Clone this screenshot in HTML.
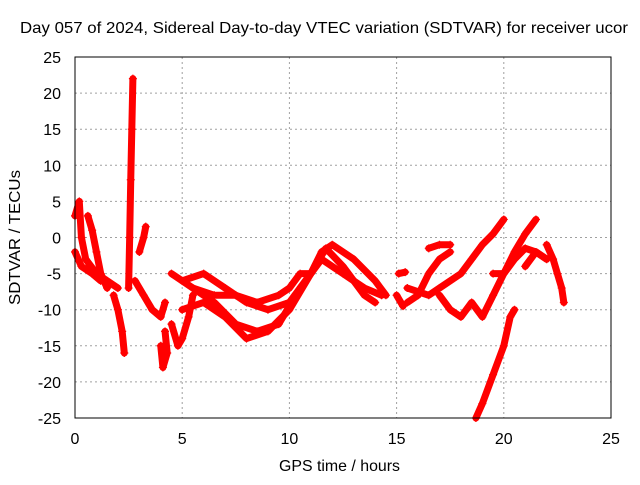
<!DOCTYPE html>
<html><head><meta charset="utf-8"><style>
body{margin:0;background:#fff}
svg text{font-family:"Liberation Sans",sans-serif;font-size:16px;fill:#000}
</style></head><body>
<svg id="chart" width="640" height="480" xmlns="http://www.w3.org/2000/svg">
<rect width="640" height="480" fill="#fff"/>
<text x="20" y="33" textLength="608" lengthAdjust="spacingAndGlyphs">Day 057 of 2024, Sidereal Day-to-day VTEC variation (SDTVAR) for receiver ucor</text>
<text x="279" y="471" textLength="121" lengthAdjust="spacingAndGlyphs">GPS time / hours</text>
<text transform="translate(20,305) rotate(-90)" textLength="135" lengthAdjust="spacingAndGlyphs">SDTVAR / TECUs</text>
<g id="grid"></g><g id="ticks"></g><g id="series"></g>
<rect x="75" y="57" width="536" height="361" fill="none" stroke="#000" stroke-width="1"/>
</svg>
<script>
const xTicks=[0,5,10,15,20,25];
const yTicks=[25,20,15,10,5,0,-5,-10,-15,-20,-25];
const trace1=[[0,3],[0.2,5],[0.3,0],[0.5,-3],[1,-5],[1.5,-6],[2,-7]];
const trace2=[[0,-2],[0.3,-4],[0.8,-5],[1.2,-6]];
const trace3=[[0.6,3],[0.8,1],[1,-2],[1.2,-5],[1.5,-7]];
const trace4=[[1.8,-8],[2,-10],[2.2,-13],[2.3,-16]];
const trace5=[[2.5,-7],[2.55,0],[2.6,8],[2.65,15],[2.7,22]];
const trace6=[[3,-2],[3.2,0],[3.3,1.5]];
const trace7=[[2.8,-6],[3.2,-8],[3.6,-10],[4,-11],[4.2,-9]];
const trace8=[[4,-15],[4.1,-18],[4.3,-16],[4.2,-13]];
const trace9=[[4.5,-12],[4.8,-15],[5,-14],[5.3,-11],[5.5,-8]];
const trace10=[[5,-6],[6,-5],[7,-7],[8,-9],[9,-10],[10,-9],[11,-5],[11.5,-2],[12,-1],[13,-3],[14,-6],[14.5,-8]];
const trace11=[[5,-10],[6,-9],[7,-11],[8,-14],[9,-13],[10,-10],[11,-5],[11.7,-1.5],[12.5,-4],[13.5,-8],[14,-9]];
const trace12=[[5.5,-7],[6.5,-9],[7.5,-12],[8.5,-13],[9.5,-12],[10.5,-7],[11.5,-3],[12.5,-5],[13.5,-7],[14.3,-8]];
const trace13=[[4.5,-5],[5.5,-7],[6.5,-8],[7.5,-8],[8.5,-9],[9.5,-8],[10,-7],[10.5,-5],[11,-5]];
const trace14=[[15,-8],[15.2,-9],[15.3,-9.5]];
const trace15=[[15.1,-5],[15.4,-4.8]];
const trace16=[[15.5,-9],[16,-8],[16.5,-5],[17,-3],[17.5,-2]];
const trace17=[[16.5,-1.5],[17,-1],[17.5,-1]];
const trace18=[[15.5,-7],[16.5,-8],[17,-7],[18,-5],[18.5,-3],[19,-1],[19.5,0.5],[20,2.5]];
const trace19=[[17,-8],[17.5,-10],[18,-11],[18.5,-9],[19,-11],[19.5,-8],[20,-5],[20.5,-2],[21,0.5],[21.5,2.5]];
const trace20=[[18.7,-25],[19,-23],[19.5,-19],[20,-15],[20.3,-11],[20.5,-10]];
const trace21=[[19.5,-5],[20,-5],[20.5,-3],[21,-1.5],[21.5,-2],[22,-3]];
const trace22=[[21,-4],[21.5,-2],[22,-3]];
const trace23=[[22,-1],[22.3,-3],[22.5,-5],[22.7,-7],[22.8,-9]];
const traces=[trace1,trace2,trace3,trace4,trace5,trace6,trace7,trace8,trace9,trace10,trace11,trace12,trace13,trace14,trace15,trace16,trace17,trace18,trace19,trace20,trace21,trace22,trace23];
const NS="http://www.w3.org/2000/svg";
const X=v=>75+(v-0)*536/25;
const Y=v=>237.5-v*361/50;
const grid=document.getElementById('grid'),tk=document.getElementById('ticks'),ser=document.getElementById('series');
function mk(tag,at,p){const e=document.createElementNS(NS,tag);for(const k in at)e.setAttribute(k,at[k]);p.appendChild(e);return e;}
xTicks.forEach(t=>{
 if(t>0&&t<25){const g=mk('line',{x1:X(t),x2:X(t),y1:57,y2:418,stroke:'#a0a0a0','stroke-dasharray':'2,3'},grid);
 
 }
 const l=mk('text',{x:X(t),y:444,'text-anchor':'middle'},tk);l.textContent=t;
 
 
});
yTicks.forEach(t=>{
 if(t>-25&&t<25){const g=mk('line',{x1:75,x2:611,y1:Y(t),y2:Y(t),stroke:'#a0a0a0','stroke-dasharray':'2,3'},grid);
 
 }
 const l=mk('text',{x:61,y:Y(t)+6,'text-anchor':'end'},tk);l.textContent=t;
 
 
});
traces.forEach(tr=>{
 const pl=mk('polyline',{points:tr.map(p=>X(p[0])+','+Y(p[1])).join(' '),fill:'none',stroke:'#ff0000','stroke-width':7,'stroke-linejoin':'round','stroke-linecap':'round'},ser);
 
 
 tr.forEach(p=>{const x=X(p[0]),y=Y(p[1]);
  const m=mk('path',{d:`M${x-4},${y}H${x+4}M${x},${y-4}V${y+4}`,stroke:'#ff0000','stroke-width':1.2},ser);
  
  });
});
</script>
</body></html>
